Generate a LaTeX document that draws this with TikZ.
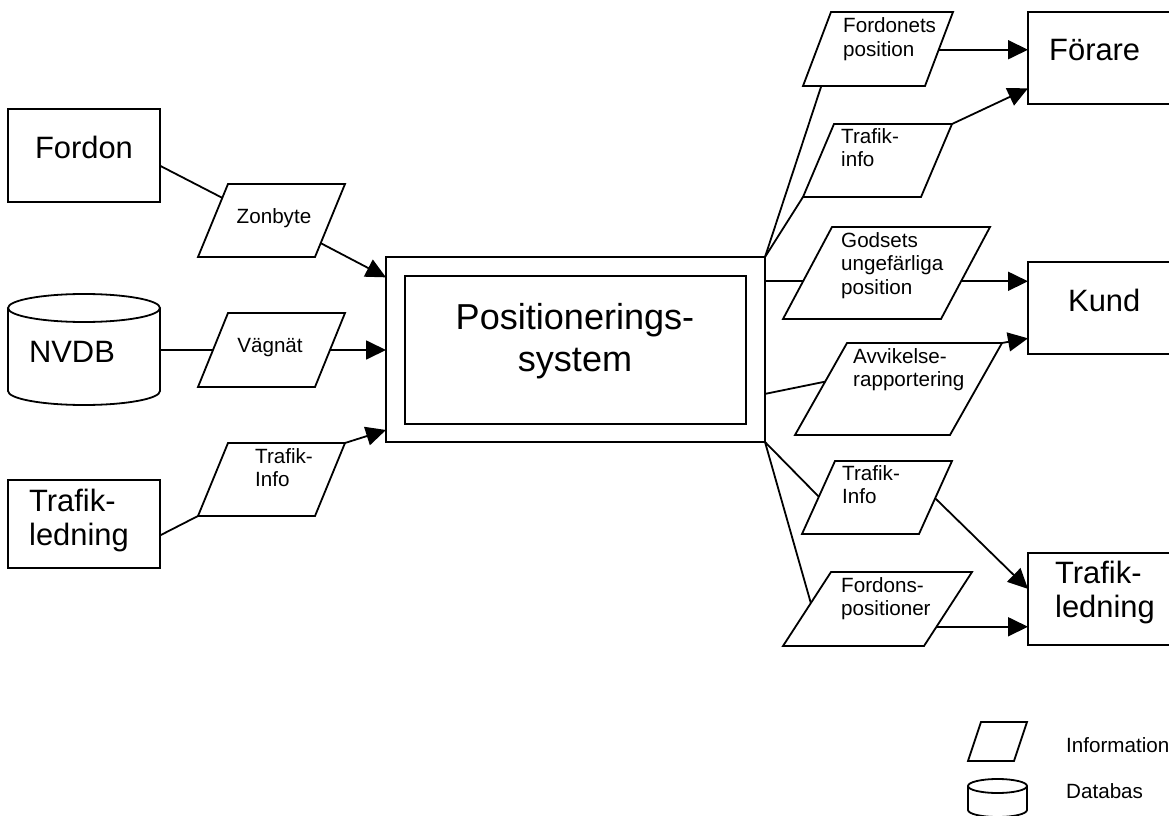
\documentclass[tikz,border=0pt]{standalone}
\usepackage{fontspec}
\setmainfont{Liberation Sans}
\usetikzlibrary{arrows.meta,calc}

% Stacked text lines whose first baseline is the node's base
\newcommand{\stackL}[1]{\begin{tabular}[t]{@{}l@{}}#1\end{tabular}}
\newcommand{\stackC}[1]{\begin{tabular}[t]{@{}c@{}}#1\end{tabular}}

% Information parallelogram: name, bottom-left x, top y, bottom y, width, slant
\newcommand{\infopar}[6]{%
  \coordinate (#1-bl) at (#2,#4);
  \coordinate (#1-br) at ({#2+#5},#4);
  \coordinate (#1-tr) at ({#2+#5+#6},#3);
  \coordinate (#1-tl) at ({#2+#6},#3);
  \draw[link, line join=miter] (#1-bl) -- (#1-br) -- (#1-tr) -- (#1-tl) -- cycle;
}

\tikzset{
  box/.style={draw, line width=1.8bp, inner sep=0pt, outer sep=0pt},
  link/.style={line width=1.8bp},
  flow/.style={line width=1.8bp, -{Triangle[length=20bp,width=19bp]}},
  small/.style={font=\fontsize{20.7}{24}\selectfont, inner sep=0pt},
  big/.style={font=\fontsize{31}{35}\selectfont, inner sep=0pt},
  maintxt/.style={font=\fontsize{36.2}{43}\selectfont, inner sep=0pt},
}

\begin{document}
\begin{tikzpicture}[x=1bp, y=-1bp]
\useasboundingbox (0,0) rectangle (1169,816);

% ---- sources ----
\node[box, minimum width=152bp, minimum height=93bp] (fordon) at (84,155.5) {};
\node[big, anchor=base] (fordonT) at (84,158) {Fordon};

% NVDB database cylinder
\draw[link] (8,308) -- (8,391) arc[start angle=180, end angle=360, x radius=76bp, y radius=14bp] -- (160,308);
\draw[link] (84,308) ellipse [x radius=76bp, y radius=14bp];
\coordinate (nvdb-r) at (160,350);
\node[big, anchor=base] (nvdbT) at (72,362) {NVDB};

\node[box, minimum width=152bp, minimum height=88bp] (tlL) at (84,524) {};
\node[big, anchor=base west] (tlLT) at (29,511) {\stackL{Trafik-\\ledning}};

% ---- central system ----
\node[box, minimum width=379bp, minimum height=185bp] (pos) at (575.5,349.5) {};
\node[box, minimum width=341bp, minimum height=148bp] (posin) at (575.5,350) {};
\node[maintxt, anchor=base] (posT) at (575,329) {\stackC{Positionerings-\\system}};

% ---- receivers ----
\node[box, minimum width=152bp, minimum height=92bp] (forare) at (1104,58) {};
\node[big, anchor=base west] (forareT) at (1049,61) {Förare};
\node[box, minimum width=152bp, minimum height=92bp] (kund) at (1104,308) {};
\node[big, anchor=base west] (kundT) at (1068,311) {Kund};
\node[box, minimum width=152bp, minimum height=92bp] (tlR) at (1104,599) {};
\node[big, anchor=base west] (tlRT) at (1055,583) {\stackL{Trafik-\\ledning}};

% ---- information flows, input side ----
\infopar{zb}{198}{184}{257}{117}{30}
\node[small, anchor=base] (zbT) at (274,223) {Zonbyte};
\infopar{vn}{198}{313}{387}{117}{30}
\node[small, anchor=base] (vnT) at (270,352) {Vägnät};
\infopar{ti}{198}{443}{516}{117}{30}
\node[small, anchor=base west] (tiT) at (255,463) {\stackL{Trafik-\\Info}};

% ---- information flows, output side ----
\infopar{fp}{803}{12}{86}{122}{28}
\node[small, anchor=base west] (fpT) at (843,33) {\stackL{Fordonets\\position}};
\infopar{tra}{803}{124}{197}{118}{31}
\node[small, anchor=base west] (traT) at (841,143) {\stackL{Trafik-\\info}};
\infopar{gp}{783}{227}{319}{158}{49}
\node[small, anchor=base west] (gpT) at (841,247) {\stackL{Godsets\\ungefärliga\\position}};
\infopar{av}{795}{343}{435}{155}{52}
\node[small, anchor=base west] (avT) at (853,363) {\stackL{Avvikelse-\\rapportering}};
\infopar{trb}{802}{461}{534}{117}{33}
\node[small, anchor=base west] (trbT) at (842,480) {\stackL{Trafik-\\Info}};
\infopar{fps}{783}{572}{646}{141}{48}
\node[small, anchor=base west] (fpsT) at (841,592) {\stackL{Fordons-\\positioner}};

% ---- connectors, input side ----
\draw[link] ($(fordon.north east)!0.61!(fordon.south east)$) -- ($(zb-bl)!0.81!(zb-tl)$);
\draw[flow] ($(zb-br)!0.19!(zb-tr)$) -- ($(pos.north west)!0.11!(pos.south west)$);
\coordinate (vn-l) at ($(vn-bl)!0.5!(vn-tl)$);
\coordinate (vn-r) at ($(vn-br)!0.5!(vn-tr)$);
\draw[link] (nvdb-r) -- (vn-l);
\draw[flow] (vn-r) -- (vn-r -| pos.west);
\draw[link] ($(tlL.north east)!0.63!(tlL.south east)$) -- (ti-bl);
\draw[flow] (ti-tr) -- ($(pos.north west)!0.935!(pos.south west)$);

% ---- connectors, output side ----
\draw[link] (pos.north east) -- ($(fp-bl)!0.15!(fp-br)$);
\draw[link] (pos.north east) -- (tra-bl);
\coordinate (fp-r) at ($(fp-br)!0.49!(fp-tr)$);
\draw[flow] (fp-r) -- (fp-r -| forare.west);
\draw[flow] (tra-tr) -- ($(forare.north west)!0.83!(forare.south west)$);

\coordinate (gp-l) at ($(gp-bl)!0.41!(gp-tl)$);
\coordinate (gp-r) at ($(gp-br)!0.41!(gp-tr)$);
\draw[link] (gp-l -| pos.east) -- (gp-l);
\draw[flow] (gp-r) -- (gp-r -| kund.west);
\draw[link] ($(pos.north east)!0.74!(pos.south east)$) -- ($(av-bl)!0.58!(av-tl)$);
\draw[flow] (av-tr) -- ($(kund.north west)!0.83!(kund.south west)$);

\draw[link] (pos.south east) -- ($(trb-bl)!0.51!(trb-tl)$);
\draw[link] (pos.south east) -- ($(fps-bl)!0.58!(fps-tl)$);
\draw[flow] ($(trb-br)!0.49!(trb-tr)$) -- ($(tlR.north west)!0.39!(tlR.south west)$);
\coordinate (fps-r) at ($(fps-br)!0.26!(fps-tr)$);
\draw[flow] (fps-r) -- (fps-r -| tlR.west);

% ---- legend ----
\infopar{lg}{968}{722}{761}{46}{13}
\node[small, anchor=base west] (infoT) at (1066,752) {Information};
\draw[link] (968,786) -- (968,810) arc[start angle=180, end angle=360, x radius=29.5bp, y radius=7bp] -- (1027,786);
\draw[link] (997.5,786) ellipse [x radius=29.5bp, y radius=7bp];
\node[small, anchor=base west] (dbT) at (1066,798) {Databas};
\end{tikzpicture}
\end{document}
